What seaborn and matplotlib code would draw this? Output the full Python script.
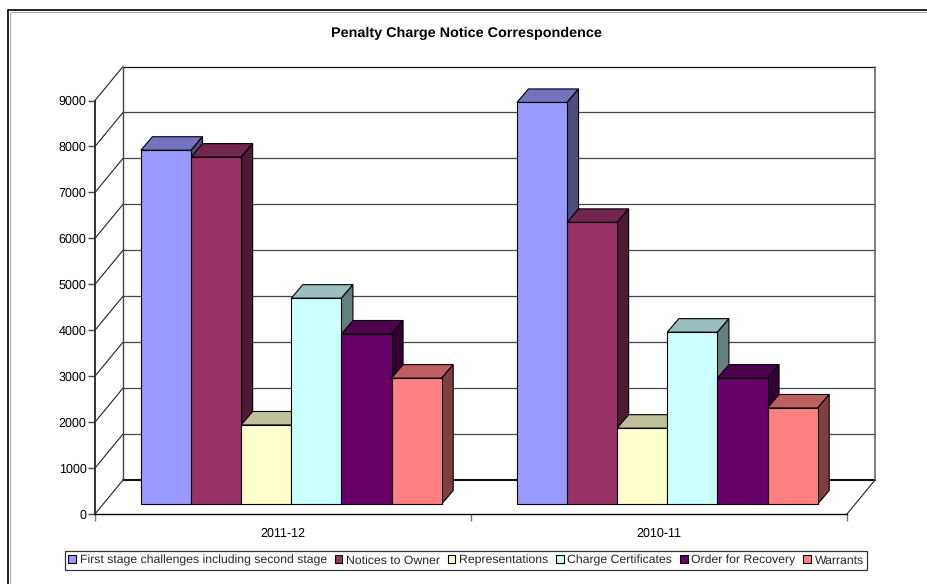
import matplotlib
matplotlib.use('Agg')
import matplotlib.pyplot as plt
from matplotlib.patches import Polygon, Rectangle
from matplotlib.transforms import Affine2D, IdentityTransform
import pandas as pd
import seaborn as sns

W, H = 927, 584

periods = ['2011-12', '2010-11']
series = ['First stage challenges including second stage', 'Notices to Owner', 'Representations',
          'Charge Certificates', 'Order for Recovery', 'Warrants']
colors = ['#9999FF', '#993366', '#FFFFCC', '#CCFFFF', '#660066', '#FF8080']
values_2011 = [7700, 7550, 1720, 4480, 3700, 2740]
values_2010 = [8740, 6130, 1650, 3740, 2740, 2090]
y_ticks = [0, 1000, 2000, 3000, 4000, 5000, 6000, 7000, 8000, 9000]


def shade(hex_color, f):
    rgb = matplotlib.colors.to_rgb(hex_color)
    return tuple(c * f for c in rgb)


sns.set_theme(style='white')
plt.rcParams['font.family'] = ['Liberation Sans', 'DejaVu Sans']
plt.rcParams['text.hinting'] = 'no_hinting'

rows = []
for i, s in enumerate(series):
    rows.append({'period': periods[0], 'series': s, 'value': values_2011[i]})
    rows.append({'period': periods[1], 'series': s, 'value': values_2010[i]})
df = pd.DataFrame(rows)

fig = plt.figure(figsize=(W / 100, H / 100), dpi=100)
ax = fig.add_axes([95 / W, 1 - 514 / H, 752 / W, 413.5 / H])
ax.patch.set_alpha(0)

sns.barplot(data=df, x='period', y='value', hue='series', hue_order=series, order=periods,
            palette=colors, saturation=1, width=0.8, gap=0, errorbar=None, ax=ax,
            edgecolor='black', linewidth=0.8, zorder=5)
ax.set_xlim(-0.5, 1.5)
ax.set_ylim(0, 9000)
ax.set_xlabel('')
ax.set_ylabel('')

# depth offsets in pixels: wall sits behind the axis, bars sit part way in
pixels = IdentityTransform()
wall_tr = ax.transData + Affine2D().translate(28, 34)
bar_tr = ax.transData + Affine2D().translate(8.3, 10)

# back wall gridlines and floor
for v in y_ticks:
    lw = 1.5 if v == 0 else 0.9
    c = '#111111' if v in (0, 9000) else '#444444'
    ax.plot([-0.5, 1.5], [v, v], color=c, lw=lw, transform=wall_tr, clip_on=False, zorder=1)
    x0, y0 = ax.transData.transform((-0.5, v))
    ax.plot([x0, x0 + 28], [y0, y0 + 34], color='#222222', lw=0.8, transform=pixels, clip_on=False, zorder=1)
ax.plot([-0.5, -0.5], [0, 9000], color='#444444', lw=1.0, transform=wall_tr, clip_on=False, zorder=1)
ax.plot([1.5, 1.5], [0, 9000], color='#666666', lw=1.2, transform=wall_tr, clip_on=False, zorder=1)
xr, yr = ax.transData.transform((1.5, 0))
ax.plot([xr, xr + 28], [yr, yr + 34], color='#222222', lw=0.8, transform=pixels, clip_on=False, zorder=1)

# front face from the seaborn bars, then top and side polygons from each bar's own extent
bars = sorted([p for p in ax.patches if p.get_width() > 0], key=lambda p: p.get_x())
dx, dy = 11.5, 13.5
for z, bar in enumerate(bars):
    face = bar.get_facecolor()[:3]
    bar.set_transform(bar_tr)
    bar.set_clip_on(False)
    bar.set_zorder(5 + z * 0.1 + 0.05)
    x0, y0 = bar_tr.transform((bar.get_x(), 0))
    x1, y1 = bar_tr.transform((bar.get_x() + bar.get_width(), bar.get_height()))
    top = Polygon([(x0, y1), (x1, y1), (x1 + dx, y1 + dy), (x0 + dx, y1 + dy)], closed=True,
                  transform=pixels, facecolor=shade(face, 0.75), edgecolor='black', lw=0.8,
                  zorder=5 + z * 0.1, clip_on=False)
    side = Polygon([(x1, y0), (x1 + dx, y0 + dy), (x1 + dx, y1 + dy), (x1, y1)], closed=True,
                   transform=pixels, facecolor=shade(face, 0.5), edgecolor='black', lw=0.8,
                   zorder=5 + z * 0.1, clip_on=False)
    ax.add_patch(top)
    ax.add_patch(side)

sns.despine(ax=ax, top=True, right=True)
ax.spines['left'].set_color('#333333')
ax.spines['left'].set_linewidth(1.4)
ax.spines['bottom'].set_color('black')
ax.spines['bottom'].set_linewidth(1.0)
ax.set_yticks(y_ticks)
ax.set_xticks([-0.5, 0.5, 1.5])
ax.set_xticks([0, 1], labels=periods, minor=True)
ax.set_xticklabels(['', '', ''])
ax.tick_params(axis='x', which='major', length=5, width=1, color='#777777', bottom=True)
ax.tick_params(axis='x', which='minor', length=0, pad=10, labelsize=9, labelcolor='black')
ax.tick_params(axis='y', length=5, width=1, color='#444444', left=True, labelsize=9, labelcolor='black', pad=1)

fig.text(466 / W, 1 - 33 / H, 'Penalty Charge Notice Correspondence', ha='center', va='center',
         fontsize=10.4, fontweight='bold', color='black')

sns.move_legend(ax, 'center', bbox_to_anchor=(466 / W, 1 - 560.5 / H), bbox_transform=fig.transFigure,
                ncol=6, title=None, frameon=True, fontsize=8.85, fancybox=False, edgecolor='black',
                handlelength=0.65, handleheight=0.65, handletextpad=0.3, columnspacing=0.6,
                borderpad=0.3, borderaxespad=0)
leg = ax.get_legend()
leg.get_frame().set_linewidth(0.9)
leg.set_zorder(20)
# columns without descenders otherwise sit a pixel lower
leg._legend_handle_box.align = 'bottom'

# chart border runs off the right and bottom of the image, with its grey shadow
fig.add_artist(Rectangle((9.5 / W, -10 / H), 930 / W, (H - 1.5) / H, transform=fig.transFigure,
                         fill=False, edgecolor='#aaaaaa', lw=0.8))
fig.add_artist(Rectangle((8 / W, -10 / H), 930 / W, H / H, transform=fig.transFigure,
                         fill=False, edgecolor='black', lw=1.2))

fig.savefig('out.png', dpi=100)
